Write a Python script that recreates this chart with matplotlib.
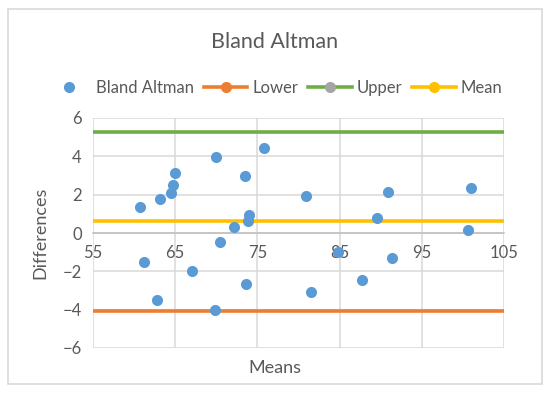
import matplotlib
matplotlib.use('Agg')
import matplotlib.pyplot as plt
from matplotlib.lines import Line2D
from matplotlib.patches import Rectangle

means = [60.7, 61.2, 63.2, 62.8, 64.5, 64.7, 65.0, 67.0, 70.0, 69.8, 70.4, 72.2, 73.5,
         73.9, 74.0, 73.6, 75.8, 80.9, 81.5, 84.8, 87.7, 89.5, 90.9, 91.4, 100.6, 101.0]
diffs = [1.36, -1.5, 1.77, -3.5, 2.1, 2.5, 3.13, -1.98, 3.96, -4.0, -0.47, 0.31, 2.97,
         0.63, 0.94, -2.66, 4.43, 1.93, -3.1, -1.0, -2.45, 0.78, 2.14, -1.3, 0.16, 2.35]
lower = -4.07
upper = 5.27
mean_diff = 0.63
x_range = [55, 105]

blue = '#5B9BD5'
orange = '#ED7D31'
green = '#70AD47'
gray = '#A5A5A5'
yellow = '#FFC000'
txt = '#595959'

plt.rcParams['font.family'] = ['Lato', 'DejaVu Sans']

fig = plt.figure(figsize=(5.5, 3.94), dpi=100)
ax = fig.add_axes([93 / 550, 1 - 348 / 394, 411 / 550, 230 / 394])

fig.patches.append(Rectangle((8 / 550, 1 - 384 / 394), 534 / 550, 375 / 394,
                             transform=fig.transFigure, fill=False,
                             edgecolor='#d9d9d9', linewidth=1.2))

ax.plot(x_range, [lower, lower], color=orange, linewidth=2.6, zorder=2)
ax.plot(x_range, [upper, upper], color=green, linewidth=2.6, zorder=2)
ax.plot(x_range, [mean_diff, mean_diff], color=yellow, linewidth=2.6, zorder=2)
ax.scatter(means, diffs, s=64, color=blue, zorder=3, linewidths=0)

ax.set_xlim(55, 105)
ax.set_ylim(-6, 6)
ax.set_xticks(range(55, 106, 10))
ax.set_yticks(range(-6, 7, 2))
ax.grid(True, color='#d9d9d9', linewidth=1.1)
ax.set_axisbelow(True)
for s in ['left', 'right', 'top']:
    ax.spines[s].set_visible(False)
ax.spines['bottom'].set_position(('data', 0))
ax.spines['bottom'].set_color('#bfbfbf')
ax.spines['bottom'].set_linewidth(1.1)
ax.tick_params(length=0, labelsize=12, labelcolor=txt)
ax.tick_params(axis='x', pad=9)
ax.tick_params(axis='y', pad=8)

fig.text(0.5, 1 - 368 / 394, 'Means', ha='center', va='center', fontsize=13, color=txt)
fig.text(40 / 550, 1 - 233 / 394, 'Differences', ha='center', va='center',
         rotation=90, fontsize=13, color=txt)
fig.text(0.5, 1 - 42 / 394, 'Bland Altman', ha='center', va='center', fontsize=15.5, color=txt)

handles = [
    Line2D([], [], linestyle='none', marker='o', color=blue, markersize=7),
    Line2D([], [], color=orange, linewidth=2.6, marker='o', markersize=7),
    Line2D([], [], color=green, linewidth=2.6, marker='o', markersize=7,
           markerfacecolor=gray, markeredgecolor=gray),
    Line2D([], [], color=yellow, linewidth=2.6, marker='o', markersize=7),
]
labels = ['Bland Altman', 'Lower', 'Upper', 'Mean']
fig.legend(handles, labels, loc='center', bbox_to_anchor=(0.5, 1 - 88 / 394), ncol=4,
           frameon=False, fontsize=12, labelcolor=txt, handlelength=2.6,
           handletextpad=0.3, columnspacing=0.6)

plt.savefig('out.png', dpi=100)
